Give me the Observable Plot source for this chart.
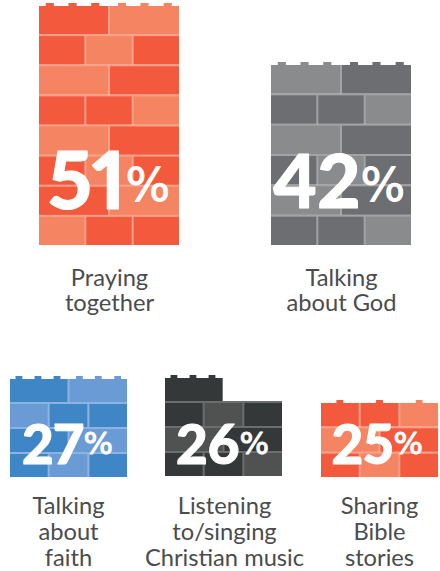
<!DOCTYPE html>
<html>
<head>
<meta charset="utf-8">
<script src="https://cdn.jsdelivr.net/npm/d3@7"></script>
<script src="https://cdn.jsdelivr.net/npm/@observablehq/plot@0.6"></script>
<style>
  html, body { margin: 0; padding: 0; background: #fff; }
  #chart { position: relative; width: 440px; height: 571px; overflow: hidden; }
  #chart svg { position: absolute; left: 0; top: 0; overflow: visible; background: transparent; max-width: none; }
</style>
</head>
<body>
<div id="chart"></div>
<script>
// Share of respondents per activity
const categories = [
  "Praying\ntogether",
  "Talking\nabout God",
  "Talking\nabout\nfaith",
  "Listening\nto/singing\nChristian music",
  "Sharing\nBible\nstories"
];
const values = [51, 42, 27, 26, 25];

// Brick courses, top to bottom. D = darker brick, L = lighter brick, - = gap in the wall.
// Two letters make half-wall bricks, three make third-wall bricks.
const courses51 = ["DL", "DLD", "LD", "DDL", "LD", "DLD", "DL", "LDD"];
const courses42 = ["LD", "DDL", "LD", "DLD", "LD", "DDL"];
const courses27 = ["DL", "LDD", "DL", "DLD"];
const courses26 = ["D-", "DLD", "LD", "DDL"];
const courses25 = ["DDL", "LD", "DLD"];
const walls = [courses51, courses42, courses27, courses26, courses25];

// Studs along the top edge, in sixths of the wall width
const studsFull = [0.5, 1.46, 2.42, 3.55, 4.5, 5.48];
const studsLeft = [0.5, 1.46, 2.42];
const studsWide = [1, 3, 5];
const studs = [studsFull, studsFull, studsFull, studsLeft, studsWide];

const orange = {D: "#f2593d", L: "#f58462", mortar: "#f9a088"};
const grey = {D: "#6d6e71", L: "#8a8b8d", mortar: "#a2a3a5"};
const blue = {D: "#3f86c6", L: "#6a9bd4", mortar: "#8fb3e0"};
const charcoal = {D: "#353839", L: "#505251", mortar: "#6c6e6e"};
const palettes = [orange, grey, blue, charcoal, orange];

// Frame of each wall on the page, and the type set over and under it
const frames = [
  {left: 39, right: 179, top: 6, bottom: 245, join: 125, base: 208, big: 80, small: 47, lift: 8, stud: 8, labelTop: 267, labelX: 109, leading: 1.07},
  {left: 271, right: 411, top: 65, bottom: 245, join: 360, base: 207, big: 75, small: 47, lift: 7, stud: 8, labelTop: 267, labelX: 341, leading: 1.07},
  {left: 10, right: 127, top: 379, bottom: 477, join: 83, base: 463, big: 55, small: 31, lift: 10, stud: 6.7, labelTop: 495, labelX: 68, leading: 1.09},
  {left: 165, right: 282, top: 378, bottom: 476, join: 239, base: 463, big: 55, small: 31, lift: 10, stud: 6.7, labelTop: 495, labelX: 224, leading: 1.09},
  {left: 321, right: 438, top: 403, bottom: 477, join: 393, base: 463, big: 55, small: 31, lift: 10, stud: 6.7, labelTop: 495, labelX: 379, leading: 1.09}
];
const gap = 2;
const studHeight = 3;

const chart = document.getElementById("chart");

categories.forEach((category, w) => {
  const value = values[w];
  const rows = walls[w];
  const palette = palettes[w];
  const f = frames[w];
  const n = rows.length;

  // One record per brick, each course occupying an equal slice of the value
  const bricks = rows.flatMap((row, i) => {
    const span = 6 / row.length;
    return Array.from(row, (shade, j) => ({
      course: i,
      shade,
      x1: j * span,
      x2: (j + 1) * span,
      y1: value * (n - 1 - i) / n,
      y2: value * (n - i) / n
    })).filter(b => b.shade !== "-");
  });

  // Mortar sits behind each course, as wide as that course's bricks
  const mortar = d3.rollups(bricks, v => ({
    course: v[0].course,
    x1: d3.min(v, b => b.x1),
    x2: d3.max(v, b => b.x2),
    y1: v[0].y1,
    y2: v[0].y2
  }), b => b.course).map(([, m]) => m);

  const topRow = bricks.filter(b => b.course === 0);
  const studMarks = studs[w].map(c => {
    const over = topRow.find(b => c >= b.x1 && c < b.x2);
    return {c, shade: over.shade};
  });
  const halfStud = (f.stud / (f.right - f.left)) * 3;

  const plot = Plot.plot({
    width: 440,
    height: 571,
    margin: 0,
    x: {axis: null, domain: [0, 6], range: [f.left - 1, f.right + 1]},
    y: {axis: null, domain: [0, value], range: [f.bottom, f.top - gap]},
    color: {type: "identity"},
    marks: [
      Plot.rect(mortar.filter(m => m.course > 0), {
        x1: "x1", x2: "x2", y1: "y1", y2: "y2", fill: palette.mortar, insetLeft: 1, insetRight: 1
      }),
      Plot.rect(mortar.filter(m => m.course === 0), {
        x1: "x1", x2: "x2", y1: "y1", y2: "y2", fill: palette.mortar, insetLeft: 1, insetRight: 1, insetTop: gap
      }),
      Plot.rect(bricks, {
        x1: "x1", x2: "x2", y1: "y1", y2: "y2",
        fill: d => palette[d.shade],
        insetLeft: 1, insetRight: 1, insetTop: gap
      }),
      Plot.rect(studMarks, {
        x1: d => d.c - halfStud,
        x2: d => d.c + halfStud,
        y1: value,
        y2: value,
        fill: d => palette[d.shade],
        insetTop: gap - studHeight,
        insetBottom: -gap
      }),
      Plot.text([value], {
        x: 0, y: 0,
        text: d => String(d),
        dx: f.join - f.left + 1,
        dy: f.base - f.bottom,
        textAnchor: "end",
        lineAnchor: "bottom",
        fill: "#fff",
        stroke: "#fff",
        strokeWidth: 1,
        fontFamily: "Lato, sans-serif",
        fontVariant: "proportional-nums",
        fontWeight: 900,
        fontSize: f.big
      }),
      Plot.text(["%"], {
        x: 0, y: 0,
        text: d => d,
        dx: f.join - f.left + 1,
        dy: f.base - f.bottom - f.lift,
        textAnchor: "start",
        lineAnchor: "bottom",
        fill: "#fff",
        stroke: "#fff",
        strokeWidth: 1,
        fontFamily: "'DejaVu Sans', sans-serif",
        fontSize: f.small
      }),
      Plot.text([category], {
        x: 3, y: 0,
        text: d => d,
        dx: f.labelX - (f.left + f.right) / 2,
        dy: f.labelTop - f.bottom,
        lineAnchor: "top",
        lineHeight: f.leading,
        fill: "#4a4c4e",
        fontFamily: "Lato, 'Open Sans', sans-serif",
        fontSize: 23.7
      })
    ]
  });
  chart.appendChild(plot);
});
</script>
</body>
</html>
